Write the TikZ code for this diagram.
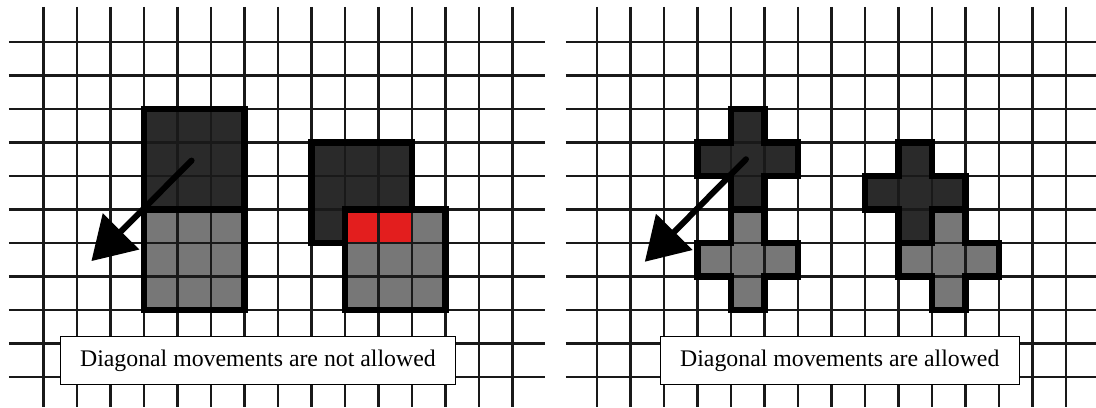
\documentclass[tikz,border=0pt]{standalone}
\usepackage{fontspec}
\setmainfont{Liberation Serif}
\usetikzlibrary{arrows.meta}
\definecolor{cellDark}{HTML}{2A2A2A}
\definecolor{cellGray}{HTML}{777777}
\definecolor{cellRed}{HTML}{E31E1E}

\begin{document}
\begin{tikzpicture}[x=33.5pt, y=-33.5pt,
	gridline/.style={line width=2.6pt, black!90},
	blockedge/.style={line width=6.5pt, black, line join=miter},
	movearrow/.style={line width=6pt, line cap=round, -{Triangle[length=42pt, width=50pt]}},
	labelbox/.style={draw, line width=1.1pt, fill=white, inner xsep=20pt, minimum height=48pt, font=\fontsize{23.8}{28}\selectfont}]
	\useasboundingbox (-1.2985, -1.2537) rectangle (31.418, 10.896);

	% Left panel: diagonal movements not allowed
	\begin{scope}
		% Cells
		\fill[cellDark] (3, 2) rectangle (6, 5);
		\fill[cellGray] (3, 5) rectangle (6, 8);
		\fill[cellDark] (8, 3) rectangle (11, 6);
		\fill[cellGray] (9, 5) rectangle (12, 8);
		\fill[cellRed] (9, 5) rectangle (11, 6);

		% Grid
		\foreach \j in {0, ..., 10} {
			\draw[gridline] (-1.03, \j) -- (14.97, \j);
		}
		\foreach \i in {0, ..., 14} {
			\draw[gridline] (\i, -1.045) -- (\i, 10.896);
		}

		% Block edges
		\draw[blockedge] (3, 2) rectangle (6, 5);
		\draw[blockedge] (3, 5) rectangle (6, 8);
		\draw[blockedge] (9, 6) -- (8, 6) -- (8, 3) -- (11, 3) -- (11, 5);
		\draw[blockedge] (9, 5) rectangle (12, 8);

		% Move
		\coordinate (fromL) at (4.42, 3.54);
		\coordinate (toL) at (1.43, 6.54);
		\draw[movearrow] (fromL) -- (toL);

		\node[labelbox] (capL) at (6.4, 9.52) {Diagonal movements are not allowed};
	\end{scope}

	% Right panel: diagonal movements allowed
	\begin{scope}[shift={(16.52, 0)}]
		% Cells
		\foreach \cx/\cy/\col in {4/3/cellDark, 4/6/cellGray, 9/4/cellDark, 10/6/cellGray} {
			\fill[\col] (\cx, \cy-1) -- ++(1, 0) -- ++(0, 1) -- ++(1, 0) -- ++(0, 1) -- ++(-1, 0)
				-- ++(0, 1) -- ++(-1, 0) -- ++(0, -1) -- ++(-1, 0) -- ++(0, -1) -- ++(1, 0) -- cycle;
		}

		% Grid
		\foreach \j in {0, ..., 10} {
			\draw[gridline] (-0.925, \j) -- (14.9, \j);
		}
		\foreach \i in {0, ..., 14} {
			\draw[gridline] (\i, -1.045) -- (\i, 10.896);
		}

		% Block edges
		\foreach \cx/\cy in {4/3, 4/6, 9/4, 10/6} {
			\draw[blockedge] (\cx, \cy-1) -- ++(1, 0) -- ++(0, 1) -- ++(1, 0) -- ++(0, 1) -- ++(-1, 0)
				-- ++(0, 1) -- ++(-1, 0) -- ++(0, -1) -- ++(-1, 0) -- ++(0, -1) -- ++(1, 0) -- cycle;
		}

		% Move
		\coordinate (fromR) at (4.45, 3.5);
		\coordinate (toR) at (1.43, 6.56);
		\draw[movearrow] (fromR) -- (toR);

		\node[labelbox] (capR) at (7.25, 9.52) {Diagonal movements are allowed};
	\end{scope}
\end{tikzpicture}
\end{document}
